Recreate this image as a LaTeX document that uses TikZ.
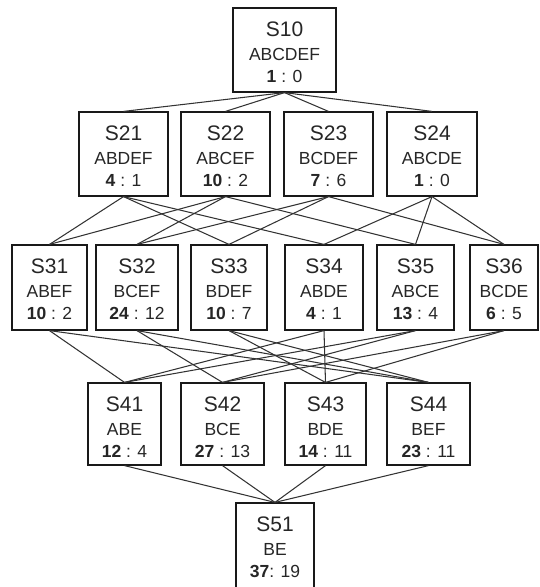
\documentclass[tikz,border=0pt]{standalone}
\usepackage{fontspec}
\setmainfont{Liberation Sans}
\usetikzlibrary{fit,calc}
\tikzset{
  stbox/.style={draw=black!90, line width=1.2pt, inner sep=0pt},
  conn/.style={draw=black!80, line width=1.05pt},
  titlefont/.style={font=\fontsize{21}{24}\selectfont, text=black!85, inner sep=0pt, anchor=base},
  setfont/.style={font=\fontsize{17.5}{20}\selectfont, text=black!85, inner sep=0pt, anchor=base},
}
% name, left, top, right, bottom, title, set, counts
\newcommand{\stg}[8]{%
  \node[stbox, fit={(#2,#3) (#4,#5)}] (#1) {};
  \node[titlefont] (#1t) at ($(#1.north)+(0,29)$) {#6};
  \node[setfont] (#1s) at ($(#1.north)+(0,53)$) {#7};
  \node[setfont] (#1c) at ($(#1.north)+(0,75)$) {#8};
}
\begin{document}
\begin{tikzpicture}[x=1pt,y=-1pt]
\useasboundingbox (0,0) rectangle (539,587);
% row 1
\stg{S10}{233}{8}{336}{92}{S10}{ABCDEF}{\textbf{1} : 0}
% row 2
\stg{S21}{79}{112}{168}{196}{S21}{ABDEF}{\textbf{4} : 1}
\stg{S22}{181}{112}{270}{196}{S22}{ABCEF}{\textbf{10} : 2}
\stg{S23}{284}{112}{373}{196}{S23}{BCDEF}{\textbf{7} : 6}
\stg{S24}{387}{112}{477}{196}{S24}{ABCDE}{\textbf{1} : 0}
% row 3
\stg{S31}{12}{245}{87}{330}{S31}{ABEF}{\textbf{10} : 2}
\stg{S32}{96}{245}{178}{330}{S32}{BCEF}{\textbf{24} : 12}
\stg{S33}{191}{245}{267}{330}{S33}{BDEF}{\textbf{10} : 7}
\stg{S34}{285}{245}{363}{330}{S34}{ABDE}{\textbf{4} : 1}
\stg{S35}{377}{245}{454}{330}{S35}{ABCE}{\textbf{13} : 4}
\stg{S36}{470}{245}{538}{330}{S36}{BCDE}{\textbf{6} : 5}
% row 4
\stg{S41}{88}{383}{161}{465}{S41}{ABE}{\textbf{12} : 4}
\stg{S42}{181}{383}{264}{465}{S42}{BCE}{\textbf{27} : 13}
\stg{S43}{285}{383}{366}{465}{S43}{BDE}{\textbf{14} : 11}
\stg{S44}{387}{383}{470}{465}{S44}{BEF}{\textbf{23} : 11}
% row 5
\stg{S51}{236}{503}{314}{590}{S51}{BE}{\textbf{37}: 19}
% connectors
\foreach \a/\b in {S10/S21,S10/S22,S10/S23,S10/S24,
  S21/S31,S21/S33,S21/S34,
  S22/S31,S22/S32,S22/S35,
  S23/S32,S23/S33,S23/S36,
  S24/S34,S24/S35,S24/S36,
  S31/S41,S31/S44,
  S32/S42,S32/S44,
  S33/S43,S33/S44,
  S34/S41,S34/S43,
  S35/S41,S35/S42,
  S36/S42,S36/S43,
  S41/S51,S42/S51,S43/S51,S44/S51}
  \draw[conn] (\a.south) -- (\b.north);
\end{tikzpicture}
\end{document}
